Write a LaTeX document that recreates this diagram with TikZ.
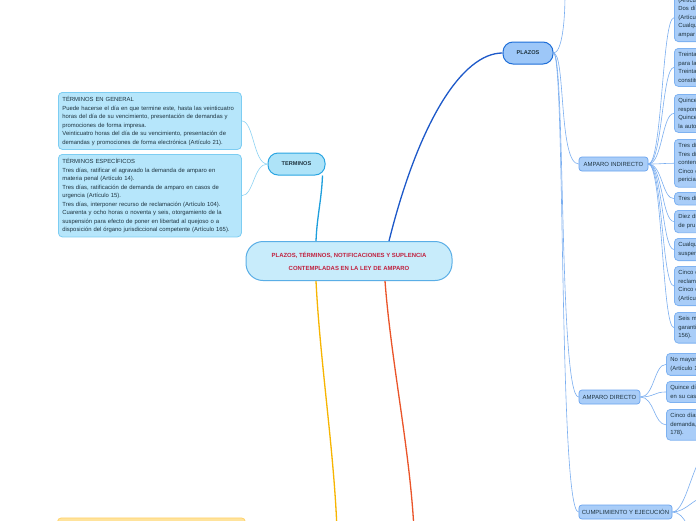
\documentclass[tikz,border=0pt]{standalone}
\usepackage{fontspec}
\setmainfont{Liberation Sans}
\usetikzlibrary{positioning}

\definecolor{topicfill}{HTML}{C8ECFB}
\definecolor{topicline}{HTML}{5AAEE6}
\definecolor{topictext}{HTML}{C0213F}
\definecolor{termfill}{HTML}{AEE3F8}
\definecolor{termline}{HTML}{2AA5E2}
\definecolor{plazfill}{HTML}{9DC7F8}
\definecolor{plazline}{HTML}{1F6FD8}
\definecolor{subfill}{HTML}{A9CDF8}
\definecolor{subline}{HTML}{69A3EE}
\definecolor{pleaffill}{HTML}{A9CDF8}
\definecolor{pleafline}{HTML}{7EB2F1}
\definecolor{tleaffill}{HTML}{B6E6FB}
\definecolor{tleafline}{HTML}{7DCDF2}
\definecolor{termwire}{HTML}{1E9FDD}
\definecolor{plazwire}{HTML}{1D59C9}
\definecolor{notifwire}{HTML}{F7B500}
\definecolor{suplwire}{HTML}{EA5429}
\definecolor{termtwig}{HTML}{8ED3F3}
\definecolor{plaztwig}{HTML}{7AAEF0}
\definecolor{notiffill}{HTML}{FFE39C}
\definecolor{notifline}{HTML}{FFD36B}
\definecolor{darktext}{HTML}{1F3440}

\tikzset{
  topic/.style={draw=topicline, fill=topicfill, rounded corners=17pt, line width=1pt,
    minimum width=206pt, minimum height=39pt, align=center, text=topictext,
    font=\fontsize{5.95}{13}\selectfont\bfseries},
  maintopic/.style={rounded corners=10pt, line width=1pt, minimum height=22pt,
    text=darktext, font=\fontsize{5.6}{6}\selectfont\bfseries},
  subtopic/.style={draw=subline, fill=subfill, rounded corners=3pt, line width=0.7pt,
    minimum height=14pt, inner xsep=3pt, text=darktext, font=\fontsize{5.95}{6}\selectfont},
  leaf/.style={rounded corners=4pt, line width=0.8pt, anchor=north west, align=left,
    inner xsep=4pt, inner ysep=4.1pt, text=darktext, font=\fontsize{5.9}{8.5}\selectfont},
  leafT/.style={leaf, draw=tleafline, fill=tleaffill, text width=175pt},
  leafP/.style={leaf, draw=pleafline, fill=pleaffill, text width=100pt},
  wire/.style={line width=1.3pt},
  twig/.style={line width=0.6pt},
}

\begin{document}
\begin{tikzpicture}[x=1pt,y=-1pt]
    \useasboundingbox (0,0) rectangle (696,520);
    \clip (0,0) rectangle (696,520);
    \fill[white] (0,0) rectangle (696,520);

    % free ends of branches leaving the picture
    \coordinate (ptop) at (565,-6);
    \coordinate (notifend) at (337,530);
    \coordinate (suplend) at (414,530);
    \coordinate (cu1) at (706,455);
    \coordinate (cu2) at (706,497);
    \coordinate (cu3) at (700,536);

    % central topic
    \node[topic] (main) at (349,261) {PLAZOS, TÉRMINOS, NOTIFICACIONES Y SUPLENCIA\\CONTEMPLADAS EN LA LEY DE AMPARO};

    % main topics
    \node[maintopic, draw=termline, fill=termfill, minimum width=57pt] (terminos) at (296.5,164) {TERMINOS};
    \node[maintopic, draw=plazline, fill=plazfill, minimum width=50pt] (plazos) at (528,53) {PLAZOS};
    \node[draw=notifline, fill=notiffill, rounded corners=4pt, line width=0.8pt,
          minimum width=188pt, minimum height=20pt, anchor=north west] (notif) at (57,517.5) {};

    % terminos
    \node[leafT] (tgen) at (58,92) {TÉRMINOS EN GENERAL\\
      Puede hacerse el día en que termine este, hasta las veinticuatro\\
      horas del día de su vencimiento, presentación de demandas y\\
      promociones de forma impresa.\\
      Veinticuatro horas del día de su vencimiento, presentación de\\
      demandas y promociones de forma electrónica (Artículo 21).};
    \node[leafT] (tesp) at (58,154) {TÉRMINOS ESPECÍFICOS\\
      Tres días, ratificar el agravado la demanda de amparo en\\
      materia penal (Artículo 14).\\
      Tres días, ratificación de demanda de amparo en casos de\\
      urgencia (Artículo 15).\\
      Tres días, interponer recurso de reclamación (Artículo 104).\\
      Cuarenta y ocho horas o noventa y seis, otorgamiento de la\\
      suspensión para efecto de poner en libertad al quejoso o a\\
      disposición del órgano jurisdiccional competente (Artículo 165).};

    % plazos
    \node[subtopic, minimum width=69pt] (ampind) at (613.5,164) {AMPARO INDIRECTO};
    \node[subtopic, minimum width=61pt] (ampdir) at (609.5,397) {AMPARO DIRECTO};
    \node[subtopic, minimum width=93pt] (cumpl) at (625.5,512) {CUMPLIMIENTO Y EJECUCIÓN};

    \node[leafP, anchor=south west] (ai1) at (674,42) {(Artícu\\Dos dí\\(Artícu\\Cualqu\\ampar};
    \node[leafP] (ai2) at (674,48) {Treinta\\para la\\Treinta\\constitu};
    \node[leafP] (ai3) at (674,94) {Quince\\respon\\Quince\\la auto};
    \node[leafP] (ai4) at (674,139) {Tres dí\\Tres dí\\conten\\Cinco d\\pericia};
    \node[leafP] (ai5) at (674,192) {Tres dí};
    \node[leafP] (ai6) at (674,210) {Diez dí\\de pru};
    \node[leafP] (ai7) at (674,238) {Cualqu\\suspen};
    \node[leafP] (ai8) at (674,266) {Cinco d\\reclam\\Cinco d\\(Artícu};
    \node[leafP] (ai9) at (674,312) {Seis m\\garanti\\156).};

    \node[leafP] (ad1) at (666,353) {No mayor\\(Artículo 1};
    \node[leafP] (ad2) at (666,381) {Quince dí\\en su cas};
    \node[leafP] (ad3) at (666,409) {Cinco días\\demanda,\\178).};

    % branches from the centre
    \draw[wire, termwire] ([xshift=-33pt]main.north) .. controls +(1,-25) and +(-1,25) .. ([xshift=26pt]terminos.south);
    \draw[wire, plazwire] ([xshift=40pt]main.north) .. controls +(30,-120) and +(-40,0) .. (plazos.west);
    \draw[wire, notifwire] ([xshift=-33pt]main.south) .. controls +(4,80) and +(-3,-80) .. (notifend);
    \draw[wire, suplwire] ([xshift=36pt]main.south) .. controls +(6,80) and +(-4,-80) .. (suplend);

    % twigs
    \foreach \t in {tgen,tesp}
        \draw[twig, termtwig] (terminos.west) .. controls +(-14,0) and +(12,0) .. (\t.east);
    \draw[twig, plaztwig] (plazos.east) .. controls +(8,0) and +(0,30) .. (ptop);
    \foreach \t in {ampind,ampdir,cumpl}
        \draw[twig, plaztwig] (plazos.east) .. controls +(12,0) and +(-20,0) .. (\t.west);
    \foreach \t in {ai1,ai2,ai3,ai4,ai5,ai6,ai7,ai8,ai9}
        \draw[twig, plaztwig] (ampind.east) .. controls +(14,0) and +(-12,0) .. (\t.west);
    \foreach \t in {ad1,ad2,ad3}
        \draw[twig, plaztwig] (ampdir.east) .. controls +(14,0) and +(-12,0) .. (\t.west);
    \foreach \t in {cu1,cu2,cu3}
        \draw[twig, plaztwig] (cumpl.east) .. controls +(14,0) and +(-12,0) .. (\t);
\end{tikzpicture}
\end{document}
